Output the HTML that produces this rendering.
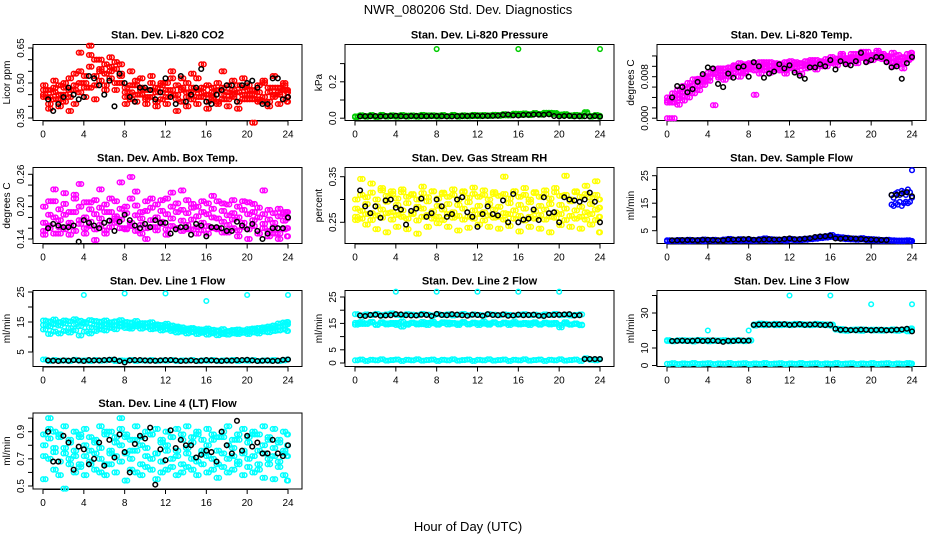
<!DOCTYPE html>
<html><head><meta charset="utf-8"><style>
html,body{margin:0;padding:0;background:#fff;}
svg{display:block;font-family:"Liberation Sans",sans-serif;}
</style></head><body>
<svg id="chart" width="936" height="540" viewBox="0 0 936 540" xmlns="http://www.w3.org/2000/svg">
<rect x="0" y="0" width="936" height="540" fill="#fff"/>
<text x="468" y="14" text-anchor="middle" font-size="13">NWR_080206  Std. Dev. Diagnostics</text>
<text x="468" y="531" text-anchor="middle" font-size="13">Hour of Day (UTC)</text>
</svg>
<script>
const H49=[0,0.5,1,1.5,2,2.5,3,3.5,4,4.5,5,5.5,6,6.5,7,7.5,8,8.5,9,9.5,10,10.5,11,11.5,12,12.5,13,13.5,14,14.5,15,15.5,16,16.5,17,17.5,18,18.5,19,19.5,20,20.5,21,21.5,22,22.5,23,23.5,24];
const H49b=[0.25,0.75,1.25,1.75,2.25,2.75,3.25,3.75,4.25,4.75,5.25,5.75,6.25,6.75,7.25,7.75,8.25,8.75,9.25,9.75,10.25,10.75,11.25,11.75,12.25,12.75,13.25,13.75,14.25,14.75,15.25,15.75,16.25,16.75,17.25,17.75,18.25,18.75,19.25,19.75,20.25,20.75,21.25,21.75,22.25,22.75,23.25,23.75,23.9];
const HK1=[0.5,1.5,2.5,3.5,4.5,5.5,6.5,7.5,8.5,9.5,10.5,11.5,12.5,13.5,14.5,15.5,16.5,17.5,18.5,19.5,20.5,21.5,22.5,23.5];
const HK2=[1,2,3,4,5,6,7,8,9,10,11,12,13,14,15,16,17,18,19,20,21,22,23,24];
const xTicks=[0,4,8,12,16,20,24];

const co2A=[0.47,0.44,0.46,0.49,0.45,0.52,0.47,0.55,0.50,0.57,0.53,0.55,0.58,0.52,0.56,0.54,0.48,0.46,0.49,0.45,0.47,0.44,0.48,0.46,0.50,0.45,0.43,0.47,0.44,0.48,0.52,0.46,0.45,0.43,0.47,0.45,0.49,0.44,0.46,0.48,0.45,0.47,0.43,0.50,0.46,0.48,0.45,0.47,0.46];
const co2B=[0.44,0.41,0.48,0.43,0.50,0.44,0.49,0.46,0.53,0.48,0.60,0.51,0.49,0.57,0.50,0.53,0.44,0.49,0.42,0.48,0.44,0.47,0.42,0.49,0.44,0.47,0.49,0.42,0.46,0.43,0.47,0.44,0.49,0.46,0.42,0.48,0.43,0.47,0.42,0.45,0.49,0.43,0.46,0.44,0.42,0.45,0.48,0.43,0.47];
const co2C=[0.49,0.47,0.43,0.45,0.48,0.47,0.54,0.50,0.48,0.62,0.49,0.60,0.54,0.55,0.59,0.50,0.46,0.43,0.51,0.47,0.43,0.50,0.46,0.43,0.47,0.52,0.45,0.48,0.50,0.46,0.44,0.48,0.42,0.48,0.50,0.43,0.46,0.45,0.49,0.43,0.47,0.45,0.49,0.42,0.48,0.44,0.46,0.49,0.44];
const co2D=[0.45,0.39,0.51,0.40,0.42,0.38,0.41,0.63,0.44,0.66,0.43,0.56,0.47,0.61,0.47,0.58,0.41,0.55,0.45,0.52,0.41,0.53,0.40,0.50,0.41,0.55,0.38,0.52,0.40,0.54,0.41,0.58,0.39,0.44,0.41,0.55,0.40,0.51,0.39,0.52,0.43,0.33,0.42,0.51,0.40,0.53,0.41,0.50,0.42];
const co2K=[0.43,0.41,0.48,0.43,0.53,0.49,0.51,0.54,0.44,0.48,0.47,0.46,0.44,0.53,0.45,0.56,0.41,0.47,0.49,0.49,0.51,0.41,0.52,0.43];
const co2K2=[0.38,0.44,0.45,0.44,0.52,0.45,0.40,0.50,0.42,0.48,0.43,0.52,0.41,0.42,0.48,0.42,0.45,0.49,0.42,0.50,0.48,0.41,0.52,0.44];

const presA=[0.010,0.012,0.011,0.013,0.010,0.014,0.012,0.011,0.013,0.012,0.014,0.011,0.013,0.012,0.015,0.012,0.014,0.013,0.012,0.015,0.013,0.011,0.014,0.012,0.016,0.013,0.015,0.014,0.017,0.016,0.018,0.021,0.024,0.020,0.022,0.025,0.023,0.027,0.030,0.024,0.020,0.018,0.015,0.013,0.016,0.026,0.012,0.014,0.013];
const presB=[0.006,0.016,0.008,0.017,0.007,0.018,0.009,0.016,0.008,0.017,0.009,0.015,0.008,0.018,0.010,0.016,0.009,0.017,0.010,0.018,0.009,0.016,0.010,0.018,0.011,0.017,0.012,0.019,0.013,0.022,0.015,0.025,0.018,0.026,0.017,0.028,0.019,0.030,0.022,0.028,0.016,0.022,0.012,0.018,0.010,0.033,0.009,0.017,0.008];
const presOutH=[8,16,24];
const presOut=[0.38,0.38,0.38];
const presK=[0.010,0.011,0.010,0.012,0.011,0.012,0.011,0.012,0.011,0.010,0.012,0.013,0.012,0.013,0.018,0.016,0.018,0.020,0.019,0.012,0.012,0.010,0.011,0.012];
const presK2=[0.011,0.012,0.011,0.013,0.010,0.012,0.011,0.012,0.010,0.011,0.012,0.014,0.013,0.014,0.020,0.015,0.019,0.020,0.022,0.010,0.013,0.011,0.010,0.009];

const tA=[.0040,.0048,.0055,.0062,.0068,.0075,.0072,.0082,.0088,.0085,.0092,.0090,.0098,.0095,.0100,.0097,.0102,.0100,.0096,.0104,.0100,.0098,.0105,.0102,.0100,.0104,.0106,.0102,.0108,.0104,.0110,.0108,.0112,.0115,.0110,.0116,.0118,.0114,.0120,.0118,.0122,.0118,.0124,.0120,.0116,.0112,.0118,.0114,.0120];
const tB=[.0030,.0036,.0045,.0050,.0058,.0064,.0076,.0070,.0078,.0088,.0082,.0096,.0086,.0102,.0090,.0104,.0094,.0106,.0102,.0092,.0108,.0094,.0096,.0108,.0104,.0092,.0100,.0110,.0098,.0112,.0104,.0114,.0106,.0110,.0120,.0112,.0114,.0124,.0116,.0128,.0118,.0130,.0120,.0114,.0126,.0110,.0116,.0124,.0120];
const tC=[.0034,.0030,.0038,.0042,.0050,.0056,.0062,.0074,.0072,.0094,.0078,.0084,.0092,.0088,.0106,.0090,.0098,.0092,.0108,.0098,.0094,.0106,.0100,.0092,.0110,.0098,.0106,.0096,.0102,.0106,.0100,.0106,.0118,.0108,.0114,.0108,.0124,.0112,.0120,.0114,.0122,.0116,.0124,.0118,.0108,.0122,.0106,.0114,.0126];
const tD=[.0000,.0000,.0026,.0034,.0040,.0048,.0054,.0064,.0080,.0025,.0096,.0074,.0080,.0100,.0080,.0086,.0106,.0045,.0086,.0108,.0088,.0102,.0092,.0086,.0096,.0108,.0086,.0104,.0112,.0094,.0108,.0100,.0110,.0102,.0124,.0104,.0110,.0106,.0128,.0110,.0112,.0126,.0114,.0110,.0100,.0104,.0096,.0112,.0116];
const tK=[.0040,.0060,.0056,.0085,.0096,.0060,.0078,.0100,.0108,.0078,.0090,.0096,.0088,.0076,.0098,.0100,.0094,.0104,.0110,.0108,.0118,.0108,.0100,.0106];
const tK2=[.0062,.0050,.0070,.0098,.0066,.0086,.0098,.0080,.0100,.0086,.0104,.0102,.0082,.0098,.0104,.0112,.0110,.0102,.0126,.0112,.0118,.0098,.0076,.0118];

const aA=[.170,.165,.180,.175,.185,.170,.190,.175,.180,.172,.186,.178,.190,.174,.182,.176,.188,.170,.184,.178,.192,.175,.180,.172,.186,.178,.190,.174,.188,.176,.182,.170,.186,.180,.178,.172,.184,.176,.180,.170,.186,.175,.180,.168,.176,.170,.182,.174,.178];
const aB=[.155,.160,.150,.162,.158,.165,.155,.168,.160,.164,.158,.166,.156,.162,.170,.160,.158,.164,.155,.166,.160,.162,.156,.168,.158,.164,.160,.155,.166,.158,.162,.156,.164,.160,.158,.152,.166,.160,.156,.162,.158,.164,.150,.160,.155,.162,.150,.158,.160];
const aC=[.200,.185,.210,.195,.205,.190,.215,.200,.208,.195,.212,.198,.204,.190,.210,.196,.200,.215,.202,.190,.210,.198,.204,.192,.215,.200,.206,.194,.212,.198,.200,.190,.206,.196,.210,.192,.204,.188,.200,.194,.208,.190,.198,.186,.194,.188,.196,.190,.190];
const aD=[.148,.210,.232,.150,.225,.148,.222,.242,.150,.208,.138,.232,.150,.215,.178,.245,.160,.255,.228,.150,.140,.215,.162,.212,.148,.226,.160,.230,.158,.205,.150,.210,.150,.220,.160,.206,.152,.212,.145,.210,.140,.205,.150,.230,.145,.150,.140,.186,.145];
const aK=[.160,.165,.162,.135,.170,.160,.174,.172,.175,.160,.162,.170,.150,.162,.148,.165,.162,.160,.155,.165,.168,.140,.160,.160];
const aK2=[.168,.162,.165,.175,.165,.170,.155,.185,.165,.168,.175,.170,.158,.162,.168,.145,.162,.155,.172,.158,.155,.150,.160,.180];

const rA=[.280,.275,.290,.270,.285,.278,.295,.272,.288,.276,.292,.270,.284,.280,.296,.274,.286,.278,.290,.272,.288,.280,.294,.276,.286,.272,.290,.278,.284,.270,.292,.276,.288,.280,.294,.274,.286,.278,.290,.272,.288,.280,.296,.276,.284,.272,.290,.278,.282];
const rB=[.262,.258,.268,.255,.265,.260,.270,.256,.266,.262,.258,.268,.254,.262,.266,.258,.262,.255,.268,.260,.264,.256,.262,.258,.268,.254,.265,.260,.262,.256,.268,.258,.264,.254,.262,.258,.266,.256,.262,.260,.268,.255,.264,.258,.262,.256,.268,.255,.262];
const rC=[.300,.310,.305,.315,.300,.320,.308,.312,.302,.316,.306,.310,.300,.314,.305,.318,.302,.312,.306,.310,.300,.316,.304,.312,.306,.310,.300,.316,.308,.312,.302,.318,.306,.310,.300,.314,.306,.312,.302,.316,.308,.310,.300,.316,.306,.312,.304,.310,.300];
const rD=[.255,.345,.245,.335,.235,.325,.228,.318,.240,.322,.235,.312,.225,.328,.240,.318,.248,.315,.240,.322,.232,.318,.238,.326,.245,.320,.240,.312,.236,.350,.242,.318,.230,.325,.240,.316,.236,.320,.228,.325,.244,.352,.240,.318,.236,.330,.245,.340,.228];
const rK=[.320,.270,.260,.300,.278,.275,.302,.270,.285,.268,.305,.262,.268,.268,.298,.312,.256,.278,.305,.272,.305,.298,.300,.295];
const rK2=[.285,.285,.298,.282,.245,.280,.262,.300,.262,.300,.272,.240,.285,.265,.250,.250,.258,.255,.270,.250,.300,.295,.315,.250];

const sA=[1.5,1.4,1.6,1.5,1.7,1.5,1.6,1.8,1.6,1.7,1.5,1.8,2.0,1.7,1.9,1.8,1.7,1.6,1.9,2.2,1.9,1.8,1.7,1.9,2.0,1.8,1.9,2.1,2.2,2.6,2.8,3.0,3.4,2.8,2.6,2.4,2.2,2.1,2.3,2.0,1.9,1.8,1.6,1.7,1.5,1.4,1.4,1.5,1.3];
const sB=[1.2,1.3,1.2,1.4,1.2,1.3,1.4,1.2,1.5,1.3,1.4,1.5,1.3,1.6,1.4,1.5,1.4,1.3,1.5,1.6,1.4,1.5,1.6,1.4,1.7,1.5,1.6,1.7,1.9,2.1,2.3,2.5,2.7,2.3,2.1,1.9,1.8,1.7,1.8,1.6,1.5,1.4,1.3,1.4,1.3,1.2,1.2,1.3,1.2];
const sHiH=[22,22.2,22.4,22.6,22.8,23,23.2,23.4,23.6,23.8,24];
const sHiA=[18,17,18.5,19,18,19.5,19,18,20,19,27];
const sHiB=[14.5,14,15,14.5,15.5,14,15,15.5,15,15.5,17];
const sK=[1.5,1.6,1.6,1.7,1.6,1.5,1.8,1.9,1.7,1.8,1.8,2.0,1.9,2.1,2.7,3.0,2.2,2.3,2.1,1.8,1.7,1.6,18,19];
const sK2=[1.5,1.6,1.5,1.7,1.5,1.8,1.8,2.0,1.7,1.9,1.8,2.2,1.9,2.3,2.9,3.2,2.1,2.2,2.0,1.8,1.6,18,18.5,17.5];

const l1A=[15.5,15.2,15.8,15.0,15.5,15.2,15.9,15.4,15.0,15.6,15.3,15.1,15.5,14.9,15.2,15.6,15.0,14.8,15.3,14.6,14.5,14.9,14.2,14.0,14.4,13.8,13.5,13.2,12.8,13.0,12.6,12.5,12.8,12.4,12.2,12.6,12.0,12.3,12.5,12.2,12.6,12.8,13.0,13.2,13.5,13.8,14.5,14.8,15.0];
const l1B=[12.5,11.0,11.8,11.2,12.0,11.5,12.2,10.5,11.8,11.2,12.0,12.5,12.2,13.0,12.6,13.5,13.0,12.8,13.5,12.8,13.2,12.6,12.8,12.2,12.5,12.0,11.5,11.8,11.2,11.6,11.0,11.4,10.8,11.2,10.6,11.0,10.8,11.2,11.0,11.4,11.0,11.5,11.2,11.8,11.6,12.0,12.2,12.5,12.0];
const l1C=[14.0,13.5,14.2,13.8,14.5,13.0,14.2,13.6,14.4,13.2,14.0,13.6,14.2,14.0,13.8,14.5,14.0,13.5,14.2,13.8,14.6,13.5,13.8,13.2,13.6,12.8,13.0,12.5,12.2,12.6,12.0,11.8,12.2,11.6,12.0,11.4,11.8,12.0,11.6,12.2,11.8,12.4,12.0,12.6,12.8,13.0,13.4,13.8,14.2];
const l1D=[2.5,2.0,2.3,2.1,2.2,2.0,2.4,2.1,2.2,2.0,2.3,2.1,2.2,2.4,2.0,2.2,2.1,2.3,2.0,2.2,2.1,2.3,2.0,2.2,2.1,2.3,2.0,2.2,2.1,2.3,2.0,2.2,2.1,2.3,2.0,2.2,2.1,2.3,2.0,2.2,2.1,2.3,2.0,2.2,2.1,2.3,2.0,2.2,2.5];
const l1OutH=[4,8,12,16,20,24];
const l1Out=[24,24.5,24.5,22,24,24];
const l1K=[2.2,2.0,2.1,2.2,2.3,2.2,2.4,2.0,2.2,2.3,2.1,2.2,2.3,2.0,2.2,2.1,2.2,2.0,2.1,2.3,2.2,2.1,2.0,2.4];
const l1K2=[2.1,2.2,2.3,2.0,2.2,2.3,2.5,1.5,2.3,2.2,2.1,2.3,2.2,2.1,2.0,2.3,2.1,2.2,2.3,2.4,2.0,2.2,2.1,2.5];

const l2A=[18.5,18.0,18.4,18.2,18.6,18.1,18.4,18.8,18.2,18.0,18.5,18.3,18.1,18.6,18.3,18.0,18.5,18.2,18.4,18.0,18.3,18.6,18.1,18.4,18.2,18.0,18.5,18.3,18.1,18.4,18.2,18.0,18.3,18.5,18.1,18.3,18.0,18.4,18.2,18.6,18.1,18.3,18.0,18.2,18.4,null,null,null,null];
const l2B=[15.2,14.8,15.0,15.3,14.6,15.1,15.0,14.8,15.2,13.8,14.9,15.1,15.0,14.7,15.2,15.0,14.8,15.1,15.3,14.9,15.0,15.2,14.8,15.0,15.1,14.9,15.0,15.2,14.8,15.0,15.1,14.9,15.0,14.8,15.1,15.0,14.7,15.0,15.1,14.8,13.5,14.9,14.6,14.8,14.5,null,null,null,null];
const l2C=[14.5,15.5,14.8,15.6,14.4,15.4,14.6,15.2,14.4,15.6,14.5,15.3,14.6,15.5,14.4,15.6,14.5,15.4,14.6,15.2,14.4,15.5,14.6,15.3,14.4,15.6,14.5,15.4,14.6,15.3,14.4,15.5,14.6,15.2,14.4,15.4,14.5,15.3,14.6,15.2,14.4,15.4,14.5,15.0,14.3,null,null,null,null];
const l2D=[1.0,1.3,0.8,1.2,1.0,1.4,0.9,1.1,1.3,0.8,1.2,1.0,1.4,0.9,1.1,1.3,0.8,1.2,1.0,1.4,0.9,1.1,1.3,0.8,1.2,1.0,1.4,0.9,1.1,1.3,0.8,1.2,1.0,1.4,0.9,1.1,1.3,0.8,1.2,1.0,1.4,0.9,1.1,1.3,0.8,1.8,1.2,1.0,1.4];
const l2OutH=[4,8,12,16,20];
const l2Out=[27,27,27,27,27];
const l2K=[18,18.2,17.9,18.1,18.4,18,18.3,17.8,18.2,18.5,18.1,18.3,17.9,18.2,18.4,18,18.1,18.3,17.8,18.2,18.4,18.0,1.5,1.5];
const l2K2=[17.8,18.3,18,18.5,18.1,18,18.2,18.6,18.1,18.3,17.9,18.2,18.5,18.1,17.9,18.3,18.2,17.9,18.2,18.3,18.5,18.1,1.5,1.5];

const l3A=[14.5,14.0,14.2,14.5,14.0,14.3,14.6,14.1,14.4,14.0,14.3,14.5,14.2,14.0,14.4,14.1,14.5,23.5,23.2,23.8,23.4,23.0,23.6,23.2,23.5,23.3,23.7,23.1,23.5,23.2,23.6,23.0,23.4,21.0,20.8,20.2,20.5,20.0,20.6,20.3,20.5,20.0,20.4,20.2,20.6,20.3,20.5,20.8,21.2];
const l3B=[14.0,13.8,14.4,14.0,14.3,13.7,14.2,14.5,13.8,14.3,14.0,14.2,13.8,14.4,14.1,13.9,14.2,22.8,24.0,23.0,23.5,23.8,23.0,23.6,23.0,23.8,23.2,23.5,23.0,23.8,23.2,23.5,22.8,20.5,20.0,19.8,20.2,20.6,19.8,20.4,20.0,20.5,19.9,20.3,20.0,19.8,20.2,19.5,19.8];
const l3C=[1.0,1.3,0.8,1.2,1.0,1.4,0.9,1.1,1.3,0.8,1.2,1.0,1.4,0.9,1.1,1.3,0.8,1.2,1.0,1.4,0.9,1.1,1.3,0.8,1.2,1.0,1.4,0.9,1.1,1.3,0.8,1.2,1.0,1.4,0.9,1.1,1.3,0.8,1.2,1.0,1.4,0.9,1.1,1.3,0.8,1.2,1.0,1.4,1.1];
const l3OutH=[4,8,12,16,20,24];
const l3Out=[20,20,40,40,35,35];
const l3K=[14,14.2,14.1,14,14.3,13.5,14,14.2,23.2,23.5,23.4,23.6,23.3,23.2,23.5,23.1,21,20.5,20.2,20.4,20.3,20.1,20.5,21];
const l3K2=[14.1,14,14.3,14.2,14,14.1,14.3,14.2,23.4,23.3,23.5,23.2,23.6,23.4,23.2,23.3,20.4,20.2,20.5,20.1,20.4,20.2,20.6,19.5];

const mA=[.80,.85,.75,.88,.78,.82,.72,.86,.80,.76,.84,.78,.90,.74,.82,.80,.86,.76,.84,.80,.78,.88,.74,.82,.80,.86,.76,.84,.78,.82,.88,.74,.80,.84,.76,.86,.80,.78,.84,.74,.82,.88,.76,.80,.84,.78,.82,.76,.80];
const mB=[.72,.70,.78,.68,.74,.70,.76,.66,.72,.68,.74,.70,.66,.76,.72,.68,.74,.70,.76,.66,.72,.70,.74,.68,.76,.70,.72,.66,.74,.70,.68,.76,.72,.70,.66,.74,.70,.72,.68,.76,.70,.72,.66,.74,.70,.72,.68,.74,.72];
const mC=[.88,.92,.90,.86,.94,.84,.90,.88,.92,.86,.82,.94,.88,.90,.86,.92,.88,.84,.94,.86,.90,.88,.92,.84,.90,.86,.92,.88,.94,.86,.90,.84,.92,.88,.86,.90,.94,.84,.88,.92,.86,.90,.88,.94,.86,.92,.84,.90,.88];
const mD=[.55,1.00,.62,.58,.48,.66,.60,.64,.58,.66,.62,.60,.58,.66,.60,1.00,.54,.62,.60,.58,.64,.62,.55,.60,.62,.64,.58,.60,.64,.62,.58,.66,.60,.62,.56,.64,.60,.62,.66,.58,.64,.60,.62,.56,.66,.55,.64,.58,.54];
const mK=[.90,.68,.82,.79,.66,.82,.84,.88,.60,.87,.93,.77,.91,.84,.80,.73,.75,.90,.74,.76,.79,.74,.84,.72];
const mK2=[.68,.87,.62,.77,.70,.65,.71,.75,.81,.85,.51,.69,.78,.80,.71,.76,.68,.80,.98,.87,.82,.74,.74,.80];

const NS='http://www.w3.org/2000/svg';
const svg=document.getElementById('chart');
const colLeft=[33,345,657], rowTop=[44.5,167.5,290.5,413], BW=269, BH=76;

function mk(tag,attrs,parent){const e=document.createElementNS(NS,tag);for(const k in attrs)e.setAttribute(k,attrs[k]);(parent||svg).appendChild(e);return e;}

function makePanel(id,col,row,title,ylab,a1,a2,yt,yl,fmt){
  const L=colLeft[col],T=rowTop[row],B=T+BH;
  const g=mk('g',{});
  
  
  const xs=h=>L+10+h*(245/24);
  const ys=v=>a1[1]+(v-a1[0])*(a2[1]-a1[1])/(a2[0]-a1[0]);
  const t=mk('text',{x:L+BW/2,y:T-6,'text-anchor':'middle','font-size':'11','font-weight':'bold'},g);
  t.textContent=title;
  
  
  const box=mk('rect',{x:L,y:T,width:BW,height:BH,fill:'none',stroke:'#000','stroke-width':1},g);
  
  
  mk('line',{x1:xs(0),x2:xs(24),y1:B+0.5,y2:B+0.5,stroke:'#000'},g);
  xTicks.forEach(h=>{
    mk('line',{x1:xs(h),x2:xs(h),y1:B,y2:B+5,stroke:'#000'},g);
    const tl=mk('text',{x:xs(h),y:B+17,'text-anchor':'middle','font-size':'10'},g);
    tl.textContent=h;
    
    
  });
  mk('line',{x1:L-0.5,x2:L-0.5,y1:ys(yt[0]),y2:ys(yt[yt.length-1]),stroke:'#000'},g);
  yt.forEach(v=>{mk('line',{x1:L-5,x2:L,y1:ys(v),y2:ys(v),stroke:'#000'},g);});
  yl.forEach(v=>{
    const yy=ys(v);
    const tl=mk('text',{x:L-9,y:yy,'text-anchor':'middle','font-size':'10',transform:'rotate(-90 '+(L-9)+' '+yy+')'},g);
    tl.textContent=fmt(v);
    
    
  });
  const yc=T+BH/2;
  const yt2=mk('text',{x:L-23,y:yc,'text-anchor':'middle','font-size':'10',transform:'rotate(-90 '+(L-23)+' '+yc+')'},g);
  yt2.textContent=ylab;
  
  
  return {g,xs,ys};
}
function pts(p,hrs,vals,color,name){
  const g=mk('g',{},p.g);
  
  
  hrs.forEach((h,i)=>{
    const v=vals[i]; if(v===null||v===undefined)return;
    const c=mk('circle',{cx:p.xs(h),cy:p.ys(v),r:2.3,fill:'none',stroke:color,'stroke-width':1.5},g);
    
    
  });
}
function dense(p,arrs,color,name){
  arrs.forEach(a=>pts(p,H49,a,color,name));
  arrs.slice().reverse().forEach(a=>pts(p,H49b,a,color,name));
}
const f2=v=>v.toFixed(2), f1=v=>v.toFixed(1), f3=v=>v.toFixed(3), f0=v=>String(v);

let p=makePanel('panel-co2',0,0,'Stan. Dev. Li-820 CO2','Licor ppm',[0.35,118],[0.65,48],[.35,.40,.45,.50,.55,.60,.65],[.35,.50,.65],f2);
dense(p,[co2A,co2B,co2C,co2D],'#ff0000','co2-series');
pts(p,HK1,co2K,'#000','co2-black-series');pts(p,HK2,co2K2,'#000','co2-black-series');

p=makePanel('panel-pressure',1,0,'Stan. Dev. Li-820 Pressure','kPa',[0,118.2],[0.2,81.8],[0,.1,.2,.3],[0,.2],f1);
dense(p,[presA,presB],'#00cc00','pressure-series');
pts(p,presOutH,presOut,'#00cc00','pressure-outliers');
pts(p,HK1,presK,'#000','pressure-black-series');pts(p,HK2,presK2,'#000','pressure-black-series');

p=makePanel('panel-temp',2,0,'Stan. Dev. Li-820 Temp.','degrees C',[0,118.2],[0.008,76.7],[0,.002,.004,.006,.008,.010,.012],[0,.008],f3);
dense(p,[tA,tB,tC,tD],'#ff00ff','temp-series');
pts(p,HK1,tK,'#000','temp-black-series');pts(p,HK2,tK2,'#000','temp-black-series');

p=makePanel('panel-amb-box-temp',0,1,'Stan. Dev. Amb. Box Temp.','degrees C',[0.14,239],[0.26,174.3],[.14,.16,.18,.20,.22,.24,.26],[.14,.20,.26],f2);
dense(p,[aA,aB,aC,aD],'#ff00ff','amb-series');
pts(p,HK1,aK,'#000','amb-black-series');pts(p,HK2,aK2,'#000','amb-black-series');

p=makePanel('panel-rh',1,1,'Stan. Dev. Gas Stream RH','percent',[0.25,222.3],[0.35,176.7],[.25,.30,.35],[.25,.35],f2);
dense(p,[rA,rB,rC,rD],'#ffff00','rh-series');
pts(p,HK1,rK,'#000','rh-black-series');pts(p,HK2,rK2,'#000','rh-black-series');

p=makePanel('panel-sample-flow',2,1,'Stan. Dev. Sample Flow','ml/min',[5,230.7],[25,175.7],[5,10,15,20,25],[5,15,25],f0);
dense(p,[sA,sB],'#0000ff','sample-flow-series');
pts(p,sHiH,sHiA,'#0000ff','sample-flow-high');pts(p,sHiH,sHiB,'#0000ff','sample-flow-high');
pts(p,HK1,sK,'#000','sample-flow-black');pts(p,HK2,sK2,'#000','sample-flow-black');

p=makePanel('panel-line1',0,2,'Stan. Dev. Line 1 Flow','ml/min',[5,352],[25,292],[5,10,15,20,25],[5,15,25],f0);
dense(p,[l1A,l1B,l1C,l1D],'#00ffff','line1-series');
pts(p,l1OutH,l1Out,'#00ffff','line1-outliers');
pts(p,HK1,l1K,'#000','line1-black');pts(p,HK2,l1K2,'#000','line1-black');

p=makePanel('panel-line2',1,2,'Stan. Dev. Line 2 Flow','ml/min',[0,363],[25,297],[0,5,10,15,20,25],[0,5,15,25],f0);
dense(p,[l2A,l2B,l2C,l2D],'#00ffff','line2-series');
pts(p,l2OutH,l2Out,'#00ffff','line2-outliers');
pts(p,HK1,l2K,'#000','line2-black');pts(p,HK2,l2K2,'#000','line2-black');

p=makePanel('panel-line3',2,2,'Stan. Dev. Line 3 Flow','ml/min',[0,365.5],[30,313],[0,10,20,30,40],[0,10,30],f0);
dense(p,[l3A,l3B,l3C],'#00ffff','line3-series');
pts(p,l3OutH,l3Out,'#00ffff','line3-outliers');
pts(p,HK1,l3K,'#000','line3-black');pts(p,HK2,l3K2,'#000','line3-black');

p=makePanel('panel-line4',0,3,'Stan. Dev. Line 4 (LT) Flow','ml/min',[0.5,486],[0.9,431.7],[.5,.6,.7,.8,.9,1.0],[.5,.7,.9],f1);
dense(p,[mA,mB,mC,mD],'#00ffff','line4-series');
pts(p,HK1,mK,'#000','line4-black');pts(p,HK2,mK2,'#000','line4-black');
</script>
</body></html>
